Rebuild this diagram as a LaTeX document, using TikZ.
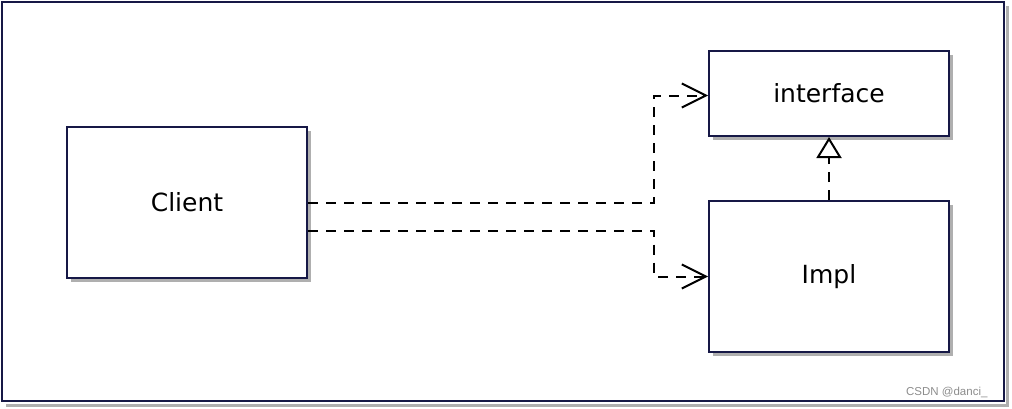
\documentclass[tikz,border=0pt]{standalone}
\usepackage{fontspec}
\usepackage{tikz}
\usetikzlibrary{arrows.meta, positioning, calc, shadows}
\newfontfamily\boxfont{DejaVu Sans}
\definecolor{darknavy}{RGB}{22,24,70}
\definecolor{shadowgray}{RGB}{175,175,175}

\begin{document}
\begin{tikzpicture}[
    x=1pt, y=1pt,
    classbox/.style={draw=darknavy, fill=white, line width=2pt, minimum width=240pt, font=\boxfont\fontsize{25}{29}\selectfont,
        drop shadow={shadow xshift=4pt, shadow yshift=-4pt, fill=shadowgray, opacity=1}},
    dashedarrow/.style={-{Straight Barb[length=24pt, width=24pt, line width=2pt]}, line width=2pt, dash pattern=on 10pt off 8pt},
    realizearrow/.style={-{Triangle[open, length=21pt, width=25pt, line width=2pt]}, line width=2pt, dash pattern=on 10pt off 8pt}
]
    \useasboundingbox (0,0) rectangle (1012,408);

    % outer frame
    \draw[shadowgray, line width=3.5pt] (6,2.5) -- (1007.5,2.5) -- (1007.5,402);
    \draw[darknavy, line width=2.6pt] (2,406) rectangle (1004,7);

    % boxes
    \node[classbox, minimum height=151pt] (client) at (187,205.5) {Client};
    \node[classbox, minimum height=85pt] (iface) at (829,314.5) {interface};
    \node[classbox, minimum height=151pt] (impl) at (829,131.5) {Impl};

    % dependencies
    \draw[dashedarrow] (client.east) -- ++(346,0) |- ([yshift=-2pt]iface.west);
    \draw[dashedarrow] ([yshift=-28pt]client.east) -- ++(346,0) |- (impl.west);
    \draw[realizearrow] (impl) -- (iface);

    % watermark
    \node[font=\fontspec{Liberation Sans}\fontsize{11.5}{13}\selectfont, text=black!45, anchor=east] (mark) at (991,16) {CSDN @danci\_};
\end{tikzpicture}
\end{document}
